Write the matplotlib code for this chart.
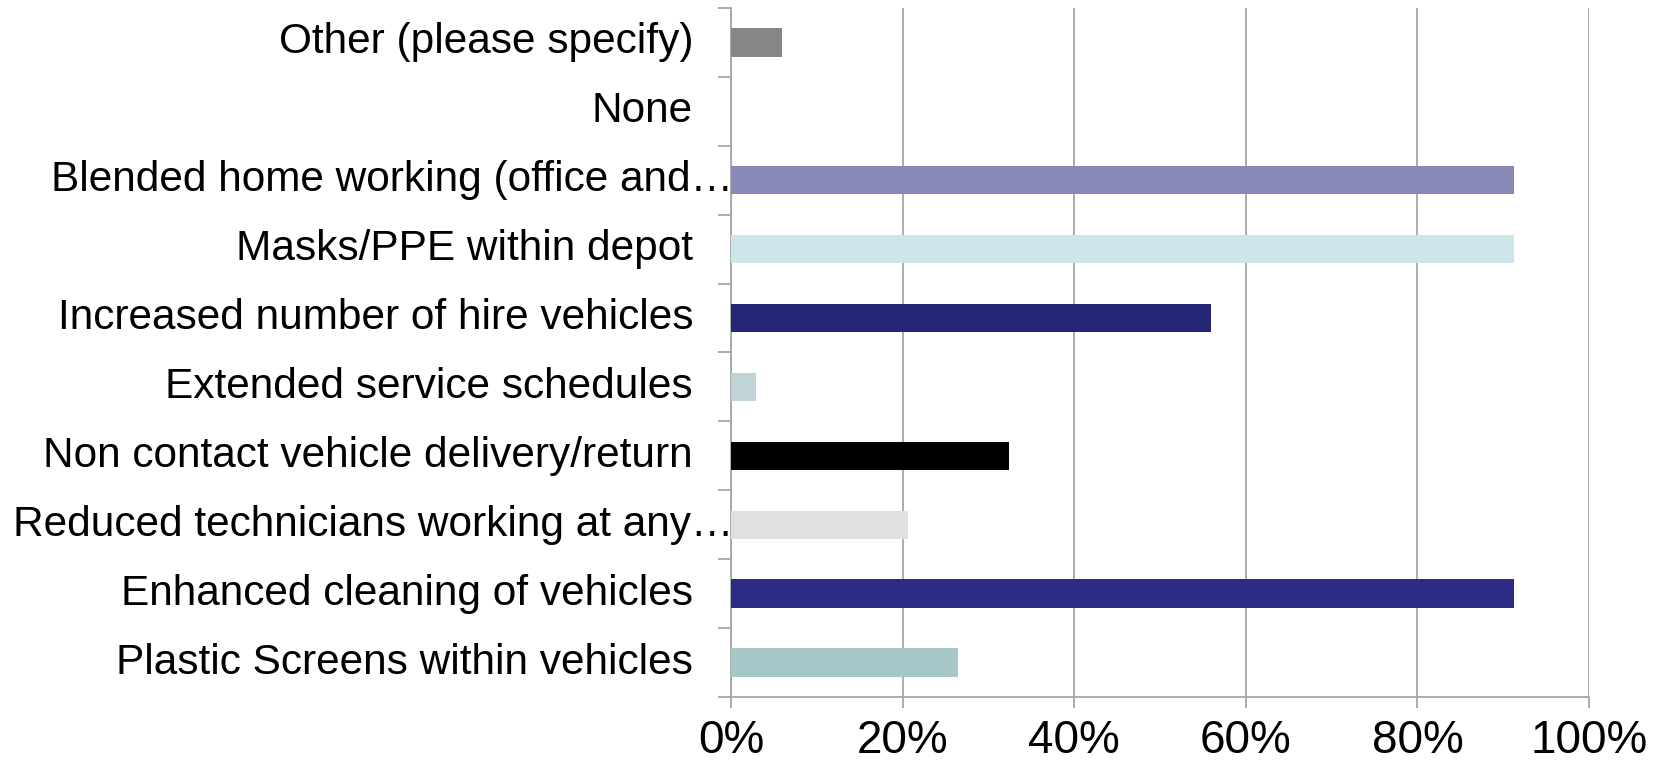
import matplotlib
matplotlib.use("Agg")
from matplotlib import pyplot as plt
import matplotlib.transforms as mtransforms

# categories listed bottom to top
categories = [
    "Plastic Screens within vehicles",
    "Enhanced cleaning of vehicles",
    "Reduced technicians working at any\u2026",
    "Non contact vehicle delivery/return",
    "Extended service schedules",
    "Increased number of hire vehicles",
    "Masks/PPE within depot",
    "Blended home working (office and\u2026",
    "None",
    "Other (please specify)",
]
values = [26.5, 91.2, 20.6, 32.4, 2.9, 55.9, 91.2, 91.2, 0.0, 5.9]
colors = ["#A6C6C8", "#2D2C85", "#E0E0E0", "#000000", "#C0D3D6",
          "#262676", "#CEE6EA", "#8989B7", "#FFFFFF", "#868686"]
truncated = [2, 7]
xticks = [0, 20, 40, 60, 80, 100]

plt.rcParams['font.family'] = ['Liberation Sans', 'DejaVu Sans']
fig = plt.figure(figsize=(16.58, 7.67), dpi=100)
ax = fig.add_axes([0.4409, 0.0913, 0.9584 - 0.4409, 0.9896 - 0.0913])

grid_c = "#A6A6A6"
y = list(range(len(categories)))
ax.barh(y, values, height=0.41, color=colors, zorder=3)

ax.set_xlim(0, 100)
ax.set_ylim(-0.5, len(categories) - 0.5)
ax.set_xticks(xticks)
ax.set_xticklabels([f"{v}%" for v in xticks], fontsize=33)
ax.xaxis.grid(True, color=grid_c, lw=1.3, zorder=0)
ax.tick_params(axis='x', length=8, width=1.3, color=grid_c, pad=8)

ax.set_yticks(y)
ax.set_yticklabels([])
ax.tick_params(axis='y', which='major', length=0)
ax.set_yticks([i - 0.5 for i in range(len(categories) + 1)], minor=True)
ax.tick_params(axis='y', which='minor', length=9.5, width=1.3, color=grid_c)

for s in ['top', 'right']:
    ax.spines[s].set_visible(False)
for s in ['left', 'bottom']:
    ax.spines[s].set_color(grid_c)
    ax.spines[s].set_linewidth(1.3)

# category labels, right aligned; the truncated ones run up to the axis
for i, lab in enumerate(categories):
    dx = 2 if i in truncated else -38
    tr = mtransforms.blended_transform_factory(ax.transAxes, ax.transData) + \
        mtransforms.ScaledTranslation(dx / 100, 0, fig.dpi_scale_trans)
    ax.text(0, i, lab, transform=tr, ha='right', va='center', fontsize=30.5,
            clip_on=False)

fig.savefig("out.png", dpi=100)
